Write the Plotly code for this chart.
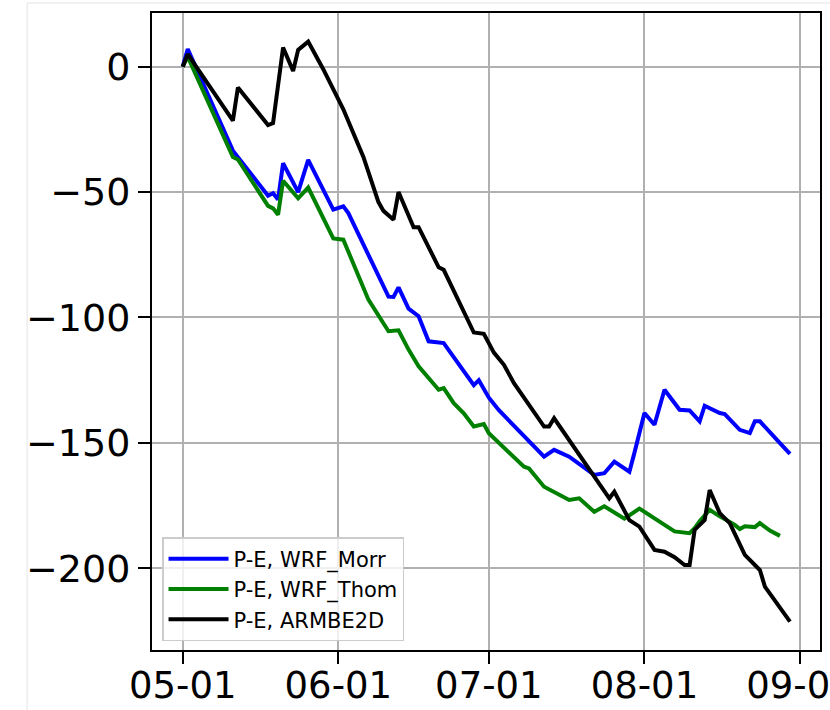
import datetime as dt
import plotly.graph_objects as go

# ---------------- data (days since 05-01, cumulative P-E) ----------------
start = dt.datetime(2011, 5, 1)

morr_days = [0, 1, 10, 17, 18, 19, 20, 23, 25, 30, 32, 33, 41, 42, 43, 45, 47, 49, 52,
             55, 58, 59, 61, 63, 68, 72, 74, 77, 82, 84, 86, 89, 90, 92, 94, 96, 99,
             101, 103, 104, 107, 108, 111, 113, 114, 115, 119, 121]
morr_vals = [0, 7, -33.5, -51.5, -50.5, -53, -38.5, -50, -37.2, -57, -55.7, -58.4, -91.7,
             -91.8, -88, -96.5, -99.5, -109.5, -110.2, -118.5, -127, -125, -132, -137,
             -147.5, -155.5, -152.8, -155.5, -162.8, -162.1, -157.5, -161.5, -154, -138.1,
             -142.8, -128.8, -136.8, -137.1, -141.4, -135.2, -138.1, -138.5, -144.8,
             -146.1, -141.4, -141.4, -150.1, -154.4]

thom_days = [0, 1, 10, 11, 17, 18, 19, 20, 23, 25, 30, 32, 37, 40, 41, 43, 45, 47, 51, 52,
             54, 56, 58, 60, 61, 68, 69, 72, 74, 77, 79, 82, 84, 88, 91, 96, 98, 101, 102,
             103, 105, 107, 110, 111, 112, 114, 115, 117, 119]
thom_vals = [0, 4, -36, -37, -55.5, -56.5, -59, -45.5, -52.5, -48.2, -68.5, -69, -92.9,
             -102.9, -105.5, -105.1, -112.8, -119.5, -128.8, -128.2, -134.2, -138.2,
             -143.5, -142.5, -146.2, -159.5, -160.2, -167.5, -169.5, -172.8, -172.1,
             -177.5, -175.3, -180.2, -176.2, -182.7, -185.3, -186, -184, -181.3, -176.7,
             -179.3, -182.7, -184.4, -183.3, -183.6, -182, -185, -187.1]

armb_days = [0, 1, 10, 11, 17, 18, 20, 22, 23, 25, 28, 32, 36, 39, 40, 42, 43, 46, 47, 51,
             52, 58, 60, 62, 64, 66, 72, 73, 74, 85, 86, 89, 91, 94, 96, 97, 98, 100, 101,
             102, 104, 105, 107, 109, 112, 114, 115, 116, 121]
armb_vals = [0, 5, -21.5, -8.3, -23.3, -22.5, 7.6, -1.7, 6.7, 10, -1, -17, -36, -54, -57.5,
             -61, -50, -64, -64, -80, -81, -106, -106.5, -114, -118.9, -126.2, -143.5,
             -143.5, -140.2, -172.1, -169.5, -180.8, -183.4, -192.7, -193.4, -194.3,
             -195.6, -198.7, -198.7, -184.7, -180.8, -168.8, -178, -182, -194.7, -198.7,
             -200.7, -207.3, -221.3]

series_names = ["P-E, WRF_Morr", "P-E, WRF_Thom", "P-E, ARMBE2D"]
series_colors = ["#0000ff", "#008000", "#000000"]

tick_dates = ["2011-05-01", "2011-06-01", "2011-07-01", "2011-08-01", "2011-09-01"]
tick_labels = ["05-01", "06-01", "07-01", "08-01", "09-01"]
y_ticks = [0, -50, -100, -150, -200]


def to_dates(days):
    return [start + dt.timedelta(days=d) for d in days]


fig = go.Figure()
for name, color, days, vals in zip(series_names, series_colors,
                                   [morr_days, thom_days, armb_days],
                                   [morr_vals, thom_vals, armb_vals]):
    fig.add_trace(go.Scatter(x=to_dates(days), y=vals, mode="lines", name=name,
                             line=dict(color=color, width=4)))

FONT = "DejaVu Sans"
fig.update_layout(
    width=830, height=710,
    margin=dict(l=152, r=10, t=13, b=60),
    paper_bgcolor="white", plot_bgcolor="white",
    font=dict(family=FONT, color="black", size=38),
    showlegend=True,
    legend=dict(x=0.015, y=0.014, xanchor="left", yanchor="bottom",
                bgcolor="rgba(255,255,255,0.8)", bordercolor="#cccccc", borderwidth=1.5,
                font=dict(family=FONT, size=21, color="black"),
                itemwidth=60),
)
fig.update_xaxes(
    type="date", automargin=False,
    range=["2011-04-24 21:07", "2011-09-04 23:31"],
    tickmode="array", tickvals=tick_dates, ticktext=tick_labels,
    ticks="outside", ticklen=12, tickwidth=2, tickcolor="black",
    showline=True, linecolor="black", linewidth=2, mirror=True,
    showgrid=True, gridcolor="#b0b0b0", gridwidth=1.8,
    ticklabeloverflow="allow", ticklabelstandoff=-10,
    tickfont=dict(family=FONT, size=37, color="black"),
)
fig.update_yaxes(
    automargin=False,
    range=[-232.6, 21.4],
    tickmode="array", tickvals=y_ticks,
    ticks="outside", ticklen=12, tickwidth=2, tickcolor="black",
    showline=True, linecolor="black", linewidth=2, mirror=True,
    showgrid=True, gridcolor="#b0b0b0", gridwidth=1.8, zeroline=False,
    tickfont=dict(family=FONT, size=38, color="black"),
)

# faint outer frame of the original picture
fig.add_shape(type="rect", xref="paper", yref="paper",
              x0=-0.187, x1=1.05, y0=-0.2, y1=1.0157,
              line=dict(color="#e4e4e4", width=1), layer="below")

fig.write_html("out.html")
